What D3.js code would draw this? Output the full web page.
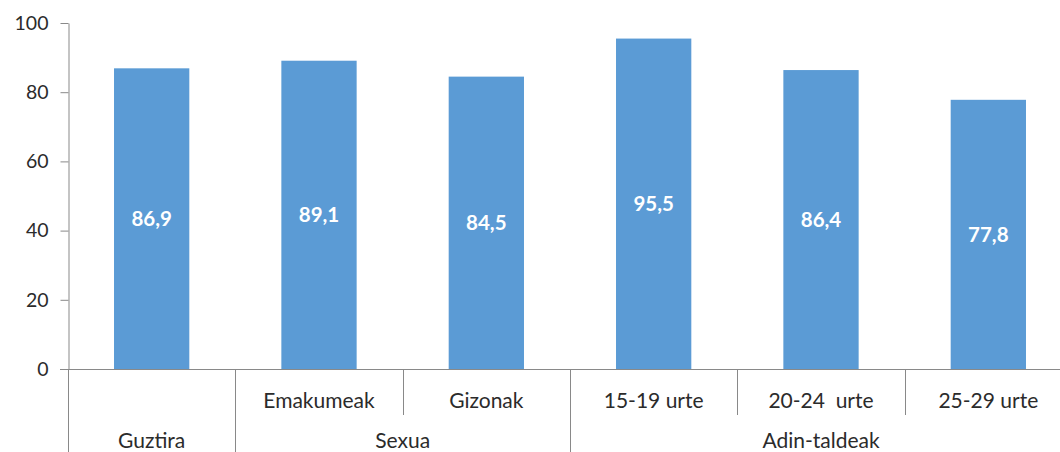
<!DOCTYPE html>
<html>
<head>
<meta charset="utf-8">
<script src="https://cdn.jsdelivr.net/npm/d3@7"></script>
<style>
  body { margin: 0; background: #fff; }
  svg { display: block; font-family: Lato, "Open Sans", sans-serif; }
  text { white-space: pre; }
</style>
</head>
<body>
<svg width="1060" height="452"></svg>
<script>
const categories = ["Guztira", "Emakumeak", "Gizonak", "15-19 urte", "20-24  urte", "25-29 urte"];
const values = [86.9, 89.1, 84.5, 95.5, 86.4, 77.8];
const groups = [
  { name: "Guztira", members: ["Guztira"], showTop: false },
  { name: "Sexua", members: ["Emakumeak", "Gizonak"], showTop: true },
  { name: "Adin-taldeak", members: ["15-19 urte", "20-24  urte", "25-29 urte"], showTop: true }
];
const yTicks = [0, 20, 40, 60, 80, 100];

const svg = d3.select("svg");
const axisColor = "#898989";
const textColor = "#2b2b2b";

const x = d3.scaleBand()
  .domain(categories)
  .range([68, 1072])
  .paddingInner(0.55)
  .paddingOuter(0.275);

const y = d3.scaleLinear()
  .domain([0, 100])
  .range([369, 23]);

// bars
svg.selectAll("rect.bar")
  .data(categories)
  .join("rect")
  .attr("class", "bar")
  .attr("x", d => x(d))
  .attr("width", x.bandwidth())
  .attr("y", (d, i) => y(values[i]))
  .attr("height", (d, i) => y(0) - y(values[i]))
  .attr("fill", "#5B9BD5");

// value labels
svg.selectAll("text.val")
  .data(categories)
  .join("text")
  .attr("class", "val")
  .attr("x", d => x(d) + x.bandwidth() / 2)
  .attr("y", (d, i) => (y(values[i]) + y(0)) / 2)
  .attr("dy", "0.36em")
  .attr("text-anchor", "middle")
  .attr("font-size", "20.5px")
  .attr("font-weight", "bold")
  .attr("fill", "#fff")
  .text((d, i) => d3.format(".1f")(values[i]).replace(".", ","));

// y axis
const yAxis = svg.append("g")
  .attr("transform", "translate(68.5,0)")
  .call(d3.axisLeft(y).tickValues(yTicks).tickSize(8).tickSizeOuter(0).tickPadding(12));
yAxis.select(".domain").attr("stroke", axisColor);
yAxis.selectAll(".tick line").attr("stroke", axisColor);
yAxis.selectAll(".tick text")
  .attr("font-size", "19.5px")
  .attr("font-family", "Lato, sans-serif")
  .attr("fill", textColor);

// x axis baseline
const step = x.step();
const x0 = x.range()[0];
const x1 = x.range()[1];
svg.append("line")
  .attr("x1", 60).attr("x2", x1)
  .attr("y1", y(0) + 0.5).attr("y2", y(0) + 0.5)
  .attr("stroke", axisColor);

// category separators
const groupEdges = new Set();
let idx = 0;
groups.forEach(g => { idx += g.members.length; groupEdges.add(idx); });
d3.range(0, categories.length + 1).forEach(i => {
  const px = Math.round(x0 + i * step) + 0.5;
  const full = i === 0 || groupEdges.has(i);
  svg.append("line")
    .attr("x1", px).attr("x2", px)
    .attr("y1", y(0)).attr("y2", full ? 452 : 415)
    .attr("stroke", axisColor);
});

// first row labels
groups.filter(g => g.showTop).forEach(g => {
  g.members.forEach(m => {
    svg.append("text")
      .attr("x", x0 + categories.indexOf(m) * step + step / 2)
      .attr("y", 408)
      .attr("text-anchor", "middle")
      .attr("font-size", "21px")
      .attr("fill", textColor)
      .text(m);
  });
});

// group labels
let start = 0;
groups.forEach(g => {
  const cx = x0 + (start + g.members.length / 2) * step;
  svg.append("text")
    .attr("x", cx)
    .attr("y", 448)
    .attr("text-anchor", "middle")
    .attr("font-size", "21px")
    .attr("fill", textColor)
    .text(g.name);
  start += g.members.length;
});
</script>
</body>
</html>
